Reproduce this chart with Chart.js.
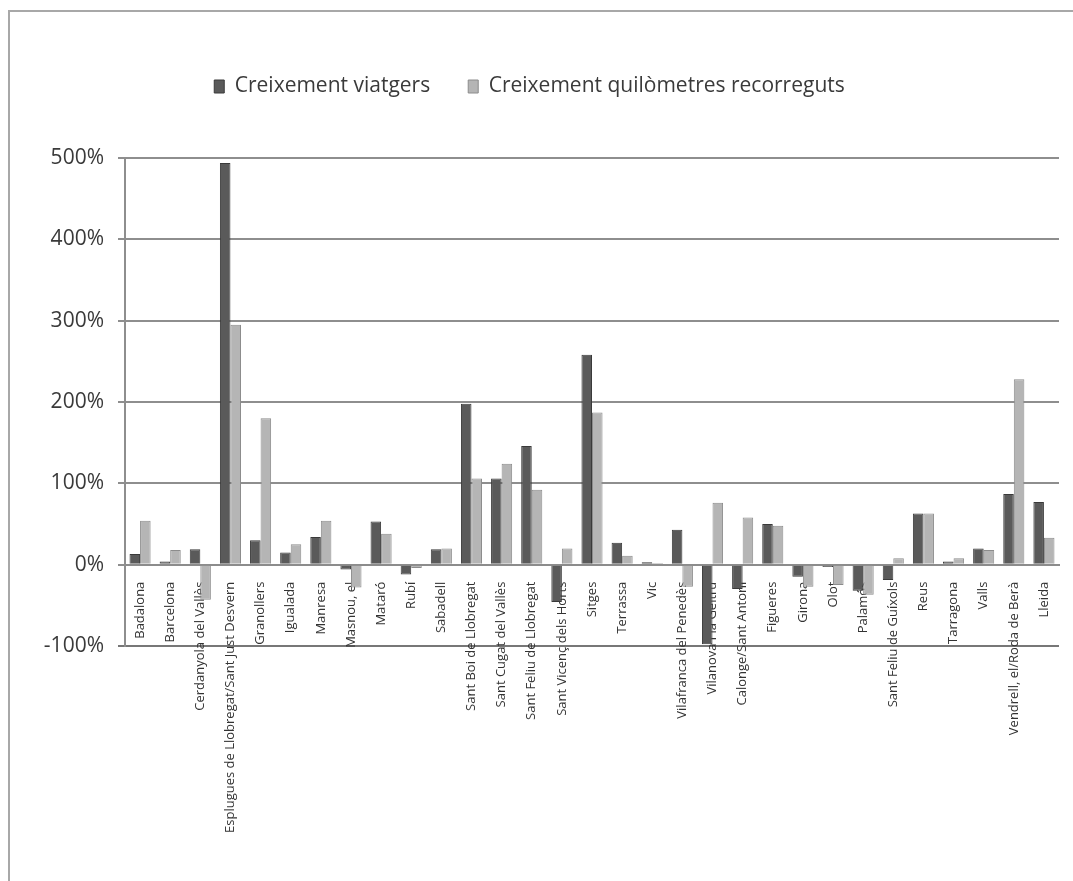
<!DOCTYPE html>
<html>
<head>
<meta charset="utf-8">
<title>Creixement viatgers i quilòmetres recorreguts</title>
<script src="https://cdn.jsdelivr.net/npm/chart.js@4/dist/chart.umd.min.js"></script>
<style>
  html, body { margin: 0; padding: 0; background: #ffffff; overflow: hidden; }
  #frame {
    position: absolute; left: 8px; top: 10px; width: 1200px; height: 1000px;
    border-top: 2px solid #a8a8a8; border-left: 2px solid #a8a8a8;
  }
  #wrap { position: absolute; left: 0; top: 0; width: 1073px; height: 881px; }
</style>
</head>
<body>
<div id="frame"></div>
<div id="wrap"><canvas id="chart" width="1073" height="881"></canvas></div>
<script>
// Municipalities (x categories)
const categories = [
  "Badalona", "Barcelona", "Cerdanyola del Vallès",
  "Esplugues de Llobregat/Sant Just Desvern", "Granollers", "Igualada",
  "Manresa", "Masnou, el", "Mataró", "Rubí", "Sabadell",
  "Sant Boi de Llobregat", "Sant Cugat del Vallès", "Sant Feliu de Llobregat",
  "Sant Vicenç dels Horts", "Sitges", "Terrassa", "Vic",
  "Vilafranca del Penedès", "Vilanova i la Geltrú", "Calonge/Sant Antoni",
  "Figueres", "Girona", "Olot", "Palamós", "Sant Feliu de Guíxols",
  "Reus", "Tarragona", "Valls", "Vendrell, el/Roda de Berà", "Lleida"
];

// Growth of passengers (%)
const viatgers = [
  13, 4, 19, 494, 30, 15, 34, -6, 53, -12, 19,
  198, 106, 146, -46, 258, 27, 3, 43, -98, -30,
  50, -15, -3, -32, -19, 63, 4, 20, 87, 77
];

// Growth of kilometres travelled (%)
const quilometres = [
  54, 18, -43, 295, 180, 25, 54, -28, 38, -4, 20,
  106, 124, 92, 20, 187, 11, 2, -27, 76, 58,
  48, -27, -25, -37, 8, 63, 8, 18, 228, 33
];

const seriesNames = ["Creixement viatgers", "Creixement quilòmetres recorreguts"];
const yTicks = [-100, 0, 100, 200, 300, 400, 500];

// Extra room between the legend and the plot area
const legendGap = {
  id: "legendGap",
  beforeInit(chart) {
    const baseFit = chart.legend.fit;
    chart.legend.fit = function () {
      baseFit.call(this);
      this.height += 51;
    };
  }
};

const ctx = document.getElementById("chart").getContext("2d");
new Chart(ctx, {
  type: "bar",
  plugins: [legendGap],
  data: {
    labels: categories,
    datasets: [
      {
        label: seriesNames[0],
        data: viatgers,
        backgroundColor: "#5a5a5a",
        borderColor: "#3a3a3a",
        borderWidth: 1
      },
      {
        label: seriesNames[1],
        data: quilometres,
        backgroundColor: "#b5b5b5",
        borderColor: "#8c8c8c",
        borderWidth: 1
      }
    ]
  },
  options: {
    responsive: false,
    animation: false,
    layout: { padding: { left: 0, right: 14, top: 38, bottom: 235 } },
    datasets: { bar: { categoryPercentage: 0.7, barPercentage: 1.0 } },
    plugins: {
      tooltip: { enabled: false },
      legend: {
        position: "top",
        labels: {
          boxWidth: 10,
          boxHeight: 13,
          padding: 38,
          color: "#3a3a3a",
          font: { family: "Open Sans", size: 21 }
        }
      }
    },
    scales: {
      x: {
        position: { y: 0 },
        grid: { display: false },
        border: { display: true, color: "#8c8c8c", width: 2 },
        ticks: {
          autoSkip: false,
          minRotation: 90,
          maxRotation: 90,
          padding: 9,
          color: "#333333",
          font: { family: "Open Sans", size: 13 }
        }
      },
      y: {
        min: -100,
        max: 500,
        afterBuildTicks: (scale) => { scale.ticks = yTicks.map(v => ({ value: v })); },
        afterFit: (scale) => { scale.width = 125; },
        ticks: {
          padding: 14,
          color: "#3a3a3a",
          font: { family: "Open Sans", size: 21 },
          callback: (v) => v + "%"
        },
        grid: {
          color: (c) => (c.tick && c.tick.value === -100 ? "#777777" : "#8e8e8e"),
          lineWidth: 2,
          tickLength: 7
        },
        border: { color: "#8e8e8e", width: 2 }
      }
    }
  }
});
</script>
</body>
</html>
